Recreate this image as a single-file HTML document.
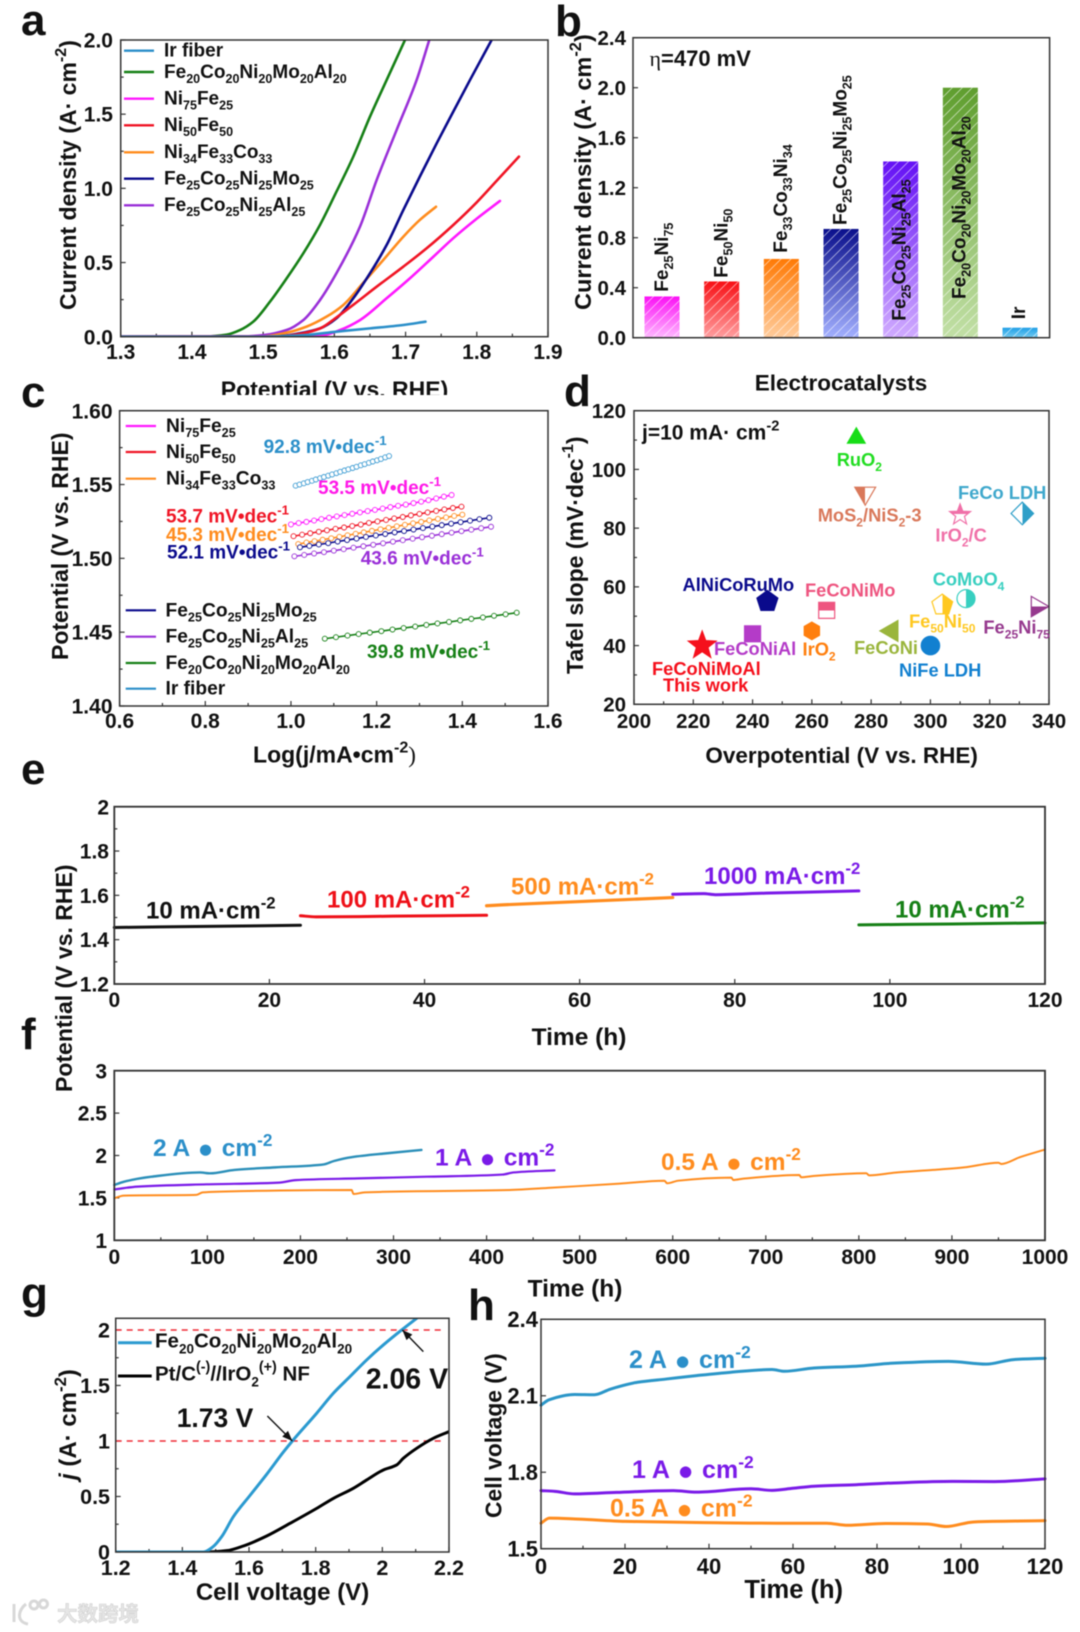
<!DOCTYPE html>
<html lang="en">
<head>
<meta charset="utf-8">
<title>Electrocatalyst performance figure</title>
<style>
html,body{margin:0;padding:0;background:#fff;width:1080px;height:1632px;overflow:hidden}
svg{display:block;filter:blur(.45px)}
text{font-family:"Liberation Sans","DejaVu Sans",sans-serif;font-weight:700;fill:#111}
.b{font-size:66%;baseline-shift:-.42em}
.p{font-size:70%;baseline-shift:.6em}
.dot{font-size:60%;font-family:"DejaVu Sans",sans-serif;baseline-shift:.12em}
.thin{font-family:"Liberation Serif",serif;font-weight:400}
</style>
</head>
<body>
<svg id="figure" xmlns="http://www.w3.org/2000/svg" width="1080" height="1632" viewBox="0 0 1080 1632">
<defs id="defs">
<linearGradient id="grad-0" x1="0" y1="0" x2="0" y2="1"><stop offset="0" stop-color="#fb10f5"/><stop offset="1" stop-color="#ffb8ff"/></linearGradient>
<linearGradient id="grad-1" x1="0" y1="0" x2="0" y2="1"><stop offset="0" stop-color="#f80f14"/><stop offset="1" stop-color="#ff9fa0"/></linearGradient>
<linearGradient id="grad-2" x1="0" y1="0" x2="0" y2="1"><stop offset="0" stop-color="#ff7a05"/><stop offset="1" stop-color="#ffcc9c"/></linearGradient>
<linearGradient id="grad-3" x1="0" y1="0" x2="0" y2="1"><stop offset="0" stop-color="#0a0f8c"/><stop offset="1" stop-color="#a3b0ff"/></linearGradient>
<linearGradient id="grad-4" x1="0" y1="0" x2="0" y2="1"><stop offset="0" stop-color="#6410f5"/><stop offset="1" stop-color="#d0abff"/></linearGradient>
<linearGradient id="grad-5" x1="0" y1="0" x2="0" y2="1"><stop offset="0" stop-color="#5f9e2e"/><stop offset="1" stop-color="#c2e0a6"/></linearGradient>
<linearGradient id="grad-6" x1="0" y1="0" x2="0" y2="1"><stop offset="0" stop-color="#1f9fe6"/><stop offset="1" stop-color="#73cbf2"/></linearGradient>
<pattern id="hatch" patternUnits="userSpaceOnUse" width="10" height="10"><path d="M-1 11L11 -1M-1 1L1 -1M9 11L11 9" stroke="#fff" stroke-width=".8" stroke-opacity=".6" fill="none"/></pattern>
</defs>

<!-- PANEL A -->
<g id="panel-a">
<g id="marks-a"></g>
<text x="21" y="35" font-size="44">a</text>
<text transform="translate(76,310) rotate(-90)" font-size="23">Current density (A· cm<tspan class="p">-2</tspan>)</text>
<text x="334.5" y="397.5" font-size="23" text-anchor="middle">Potential (V vs. RHE)</text>
<rect x="180" y="395" width="320" height="12" fill="#fff"/>
<g font-size="19">
<line x1="124" x2="154" y1="50.7" y2="50.7" stroke="#2b8fc9" stroke-width="2.4"/>
<text x="164" y="56.5">Ir fiber</text>
<line x1="124" x2="154" y1="72" y2="72" stroke="#168016" stroke-width="2.4"/>
<text x="164" y="78">Fe<tspan class="b">20</tspan>Co<tspan class="b">20</tspan>Ni<tspan class="b">20</tspan>Mo<tspan class="b">20</tspan>Al<tspan class="b">20</tspan></text>
<line x1="124" x2="154" y1="98.7" y2="98.7" stroke="#ff19ff" stroke-width="2.4"/>
<text x="164" y="104.5">Ni<tspan class="b">75</tspan>Fe<tspan class="b">25</tspan></text>
<line x1="124" x2="154" y1="125.3" y2="125.3" stroke="#f01525" stroke-width="2.4"/>
<text x="164" y="131">Ni<tspan class="b">50</tspan>Fe<tspan class="b">50</tspan></text>
<line x1="124" x2="154" y1="152.3" y2="152.3" stroke="#ff8c1e" stroke-width="2.4"/>
<text x="164" y="158">Ni<tspan class="b">34</tspan>Fe<tspan class="b">33</tspan>Co<tspan class="b">33</tspan></text>
<line x1="124" x2="154" y1="178.7" y2="178.7" stroke="#0a0a8c" stroke-width="2.4"/>
<text x="164" y="184.5">Fe<tspan class="b">25</tspan>Co<tspan class="b">25</tspan>Ni<tspan class="b">25</tspan>Mo<tspan class="b">25</tspan></text>
<line x1="124" x2="154" y1="205.3" y2="205.3" stroke="#9a30d8" stroke-width="2.4"/>
<text x="164" y="211">Fe<tspan class="b">25</tspan>Co<tspan class="b">25</tspan>Ni<tspan class="b">25</tspan>Al<tspan class="b">25</tspan></text>
</g>
</g>

<!-- PANEL B -->
<g id="panel-b">
<g id="marks-b"></g>
<text x="555" y="36" font-size="44">b</text>
<text transform="translate(591,310) rotate(-90)" font-size="23.5">Current density (A· cm<tspan class="p">-2</tspan>)</text>
<text x="841" y="390.7" font-size="22.5" text-anchor="middle">Electrocatalysts</text>
<text x="649.5" y="66" font-size="22"><tspan class="thin">η</tspan>=470 mV</text>
<g font-size="19">
<text transform="translate(668,291.7) rotate(-90)">Fe<tspan class="b">25</tspan>Ni<tspan class="b">75</tspan></text>
<text transform="translate(727.7,277.7) rotate(-90)">Fe<tspan class="b">50</tspan>Ni<tspan class="b">50</tspan></text>
<text transform="translate(787.2,252.7) rotate(-90)">Fe<tspan class="b">33</tspan>Co<tspan class="b">33</tspan>Ni<tspan class="b">34</tspan></text>
<text transform="translate(846.5,225) rotate(-90)">Fe<tspan class="b">25</tspan>Co<tspan class="b">25</tspan>Ni<tspan class="b">25</tspan>Mo<tspan class="b">25</tspan></text>
<text transform="translate(905.7,320.7) rotate(-90)">Fe<tspan class="b">25</tspan>Co<tspan class="b">25</tspan>Ni<tspan class="b">25</tspan>Al<tspan class="b">25</tspan></text>
<text transform="translate(965.3,299) rotate(-90)">Fe<tspan class="b">20</tspan>Co<tspan class="b">20</tspan>Ni<tspan class="b">20</tspan>Mo<tspan class="b">20</tspan>Al<tspan class="b">20</tspan></text>
<text transform="translate(1024.8,319.3) rotate(-90)">Ir</text>
</g>
</g>

<!-- PANEL C -->
<g id="panel-c">
<g id="marks-c"></g>
<text x="21" y="407" font-size="44">c</text>
<text transform="translate(68,660) rotate(-90)" font-size="23">Potential (V vs. RHE)</text>
<text x="334.5" y="762.7" font-size="23" text-anchor="middle">Log(j/mA•cm<tspan class="p">-2</tspan><tspan class="thin">)</tspan></text>
<g font-size="19.2">
<line x1="125.7" x2="156" y1="426" y2="426" stroke="#ff19ff" stroke-width="2.2"/>
<text x="166" y="432">Ni<tspan class="b">75</tspan>Fe<tspan class="b">25</tspan></text>
<line x1="125.7" x2="156" y1="452" y2="452" stroke="#f01525" stroke-width="2.2"/>
<text x="166" y="458">Ni<tspan class="b">50</tspan>Fe<tspan class="b">50</tspan></text>
<line x1="125.7" x2="156" y1="478.7" y2="478.7" stroke="#ff8c1e" stroke-width="2.2"/>
<text x="166" y="484.7">Ni<tspan class="b">34</tspan>Fe<tspan class="b">33</tspan>Co<tspan class="b">33</tspan></text>
<line x1="125.7" x2="156" y1="610.3" y2="610.3" stroke="#0a0a8c" stroke-width="2.2"/>
<text x="165.5" y="616.3">Fe<tspan class="b">25</tspan>Co<tspan class="b">25</tspan>Ni<tspan class="b">25</tspan>Mo<tspan class="b">25</tspan></text>
<line x1="125.7" x2="156" y1="636.7" y2="636.7" stroke="#9a30d8" stroke-width="2.2"/>
<text x="165.5" y="642.7">Fe<tspan class="b">25</tspan>Co<tspan class="b">25</tspan>Ni<tspan class="b">25</tspan>Al<tspan class="b">25</tspan></text>
<line x1="125.7" x2="156" y1="663" y2="663" stroke="#168016" stroke-width="2.2"/>
<text x="165.5" y="669">Fe<tspan class="b">20</tspan>Co<tspan class="b">20</tspan>Ni<tspan class="b">20</tspan>Mo<tspan class="b">20</tspan>Al<tspan class="b">20</tspan></text>
<line x1="125.7" x2="156" y1="688.7" y2="688.7" stroke="#2b8fc9" stroke-width="2.2"/>
<text x="165.5" y="694.7">Ir fiber</text>
</g>
<g font-size="19">
<text x="263.6" y="453" style="fill:#2b8fc9">92.8 mV•dec<tspan class="p">-1</tspan></text>
<text x="318" y="494" style="fill:#ff19e8">53.5 mV•dec<tspan class="p">-1</tspan></text>
<text x="166" y="522.7" style="fill:#f01525">53.7 mV•dec<tspan class="p">-1</tspan></text>
<text x="166" y="541" style="fill:#ff8c1e">45.3 mV•dec<tspan class="p">-1</tspan></text>
<text x="167" y="558.3" style="fill:#0a0a8c">52.1 mV•dec<tspan class="p">-1</tspan></text>
<text x="360.7" y="564.3" style="fill:#9a30d8">43.6 mV•dec<tspan class="p">-1</tspan></text>
<text x="367" y="658" style="fill:#168016">39.8 mV•dec<tspan class="p">-1</tspan></text>
</g>
</g>

<!-- PANEL D -->
<g id="panel-d">
<text x="564" y="406" font-size="44">d</text>
<g id="marks-d"></g>
<text transform="translate(583,674) rotate(-90)" font-size="23">Tafel slope (mV·dec<tspan class="p">-1</tspan>)</text>
<text x="841.6" y="763" font-size="22.5" text-anchor="middle">Overpotential (V vs. RHE)</text>
<text x="642" y="439.3" font-size="21">j=10 mA· cm<tspan class="p">-2</tspan></text>
<g font-size="18.3">
<text x="836.7" y="466" style="fill:#22dd22">RuO<tspan class="b">2</tspan></text>
<text x="817.7" y="521.7" style="fill:#d9785a">MoS<tspan class="b">2</tspan>/NiS<tspan class="b">2</tspan>-3</text>
<text x="958" y="499" style="fill:#3fa8cc">FeCo LDH</text>
<text x="935.4" y="541.7" style="fill:#f070a8">IrO<tspan class="b">2</tspan>/C</text>
<text x="682.5" y="591" style="fill:#0a0a8c">AlNiCoRuMo</text>
<text x="805" y="596.7" style="fill:#ee5580">FeCoNiMo</text>
<text x="932.7" y="585.7" style="fill:#38cfc0">CoMoO<tspan class="b">4</tspan></text>
<text x="909" y="627.7" style="fill:#ffc820">Fe<tspan class="b">50</tspan>Ni<tspan class="b">50</tspan></text>
<text x="983.4" y="633.3" style="fill:#96398e">Fe<tspan class="b">25</tspan>Ni<tspan class="b">75</tspan></text>
<text x="714" y="655" style="fill:#b43bc8">FeCoNiAl</text>
<text x="802.5" y="655.7" style="fill:#ff7f0e">IrO<tspan class="b">2</tspan></text>
<text x="854" y="654" style="fill:#9ab53c">FeCoNi</text>
<text x="899" y="676.7" style="fill:#1280d0">NiFe LDH</text>
<text x="652" y="675" style="fill:#f5101c">FeCoNiMoAl</text>
<text x="663" y="691.7" style="fill:#f5101c">This work</text>
</g>
</g>

<!-- PANEL E -->
<g id="panel-e">
<g id="marks-e"></g>
<text x="21" y="784" font-size="44">e</text>
<text transform="translate(72,1092) rotate(-90)" font-size="23">Potential (V vs. RHE)</text>
<text x="579" y="1045" font-size="24.5" text-anchor="middle">Time (h)</text>
<g font-size="24">
<text x="146" y="918.3">10 mA·cm<tspan class="p">-2</tspan></text>
<text x="327" y="907.7" style="fill:#ee1018">100 mA·cm<tspan class="p">-2</tspan></text>
<text x="511" y="894.3" style="fill:#ff8c1e">500 mA·cm<tspan class="p">-2</tspan></text>
<text x="704" y="884" style="fill:#7a1ae8">1000 mA·cm<tspan class="p">-2</tspan></text>
<text x="895" y="917.7" style="fill:#168016">10 mA·cm<tspan class="p">-2</tspan></text>
</g>
</g>

<!-- PANEL F -->
<g id="panel-f">
<g id="marks-f"></g>
<text x="21" y="1049" font-size="44">f</text>
<text x="575" y="1296.7" font-size="24.5" text-anchor="middle">Time (h)</text>
<g font-size="24.5">
<text x="153" y="1156" style="fill:#2b8fc9">2 A <tspan class="dot" dx="3">●</tspan><tspan dx="3"> cm</tspan><tspan class="p">-2</tspan></text>
<text x="435" y="1165.7" style="fill:#7a1ae8">1 A <tspan class="dot" dx="3">●</tspan><tspan dx="3"> cm</tspan><tspan class="p">-2</tspan></text>
<text x="661" y="1170" style="fill:#ff8c1e">0.5 A <tspan class="dot" dx="3">●</tspan><tspan dx="3"> cm</tspan><tspan class="p">-2</tspan></text>
</g>
</g>

<!-- PANEL G -->
<g id="panel-g">
<g id="marks-g"></g>
<text x="21" y="1308" font-size="44">g</text>
<text transform="translate(76,1480) rotate(-90)" font-size="24"><tspan font-style="italic">j</tspan> (A· cm<tspan class="p">-2</tspan>)</text>
<text x="282.5" y="1600" font-size="24" text-anchor="middle">Cell voltage (V)</text>
<line x1="118" x2="151.7" y1="1342.7" y2="1342.7" stroke="#2b9ad0" stroke-width="3"/>
<text x="155" y="1347.7" font-size="20.5">Fe<tspan class="b">20</tspan>Co<tspan class="b">20</tspan>Ni<tspan class="b">20</tspan>Mo<tspan class="b">20</tspan>Al<tspan class="b">20</tspan></text>
<line x1="118" x2="151.7" y1="1376" y2="1376" stroke="#000" stroke-width="3"/>
<text x="155" y="1380.7" font-size="20.5">Pt/C<tspan class="p">(-)</tspan>//IrO<tspan class="b">2</tspan><tspan class="p">(+)</tspan> NF</text>
<text x="365.7" y="1388.3" font-size="28.5">2.06 V</text>
<text x="176.7" y="1427" font-size="26.5">1.73 V</text>
</g>

<!-- PANEL H -->
<g id="panel-h">
<g id="marks-h"></g>
<text x="468" y="1320" font-size="44">h</text>
<text transform="translate(501.5,1518) rotate(-90)" font-size="22.8">Cell voltage (V)</text>
<text x="793.7" y="1598" font-size="25.5" text-anchor="middle">Time (h)</text>
<g font-size="25">
<text x="629" y="1368" style="fill:#2b8fc9">2 A <tspan class="dot" dx="3">●</tspan><tspan dx="3"> cm</tspan><tspan class="p">-2</tspan></text>
<text x="632" y="1478" style="fill:#7a1ae8">1 A <tspan class="dot" dx="3">●</tspan><tspan dx="3"> cm</tspan><tspan class="p">-2</tspan></text>
<text x="610" y="1516.7" style="fill:#ff8c1e">0.5 A <tspan class="dot" dx="3">●</tspan><tspan dx="3"> cm</tspan><tspan class="p">-2</tspan></text>
</g>
</g>

<!-- WATERMARK -->
<g>
<g fill="none" stroke="#d8d8d8" stroke-width="3">
<path d="M14 1604V1622M26 1604C18 1610 16 1622 28 1624"/>
<circle cx="34" cy="1605" r="4"/>
<circle cx="43.5" cy="1604" r="4"/>
</g>
<text x="57" y="1621" font-size="20.5" style="fill:#e6e6e6;stroke:#d2d2d2;stroke-width:.6;font-family:'Liberation Sans','Noto Sans CJK SC',sans-serif">大数跨境</text>
</g>
</svg>

<script>
/* ---------- Panel a: polarization curves ---------- */
const aXLabels = ['1.3','1.4','1.5','1.6','1.7','1.8','1.9'];
const aYLabels = ['0.0','0.5','1.0','1.5','2.0'];
const aIrU = [1.3,1.5,1.5564,1.603,1.65,1.6968,1.728];
const aIrJ = [0,0,0.01,0.034,0.056,0.079,0.101];
const aMoalU = [1.3,1.42,1.4488,1.4675,1.486,1.5096,1.533,1.5564,1.5798,1.603,1.6266,1.65,1.6734,1.6992];
const aMoalJ = [0,0.002,0.014,0.045,0.101,0.236,0.393,0.562,0.753,0.978,1.214,1.483,1.73,2.0];
const aNi75U = [1.3,1.55,1.5845,1.608,1.636,1.6734,1.706,1.739,1.767,1.7998,1.8325];
const aNi75J = [0,0.001,0.01,0.045,0.112,0.259,0.393,0.539,0.664,0.795,0.915];
const aNi50U = [1.3,1.52,1.556,1.58,1.603,1.6266,1.6594,1.6968,1.7296,1.767,1.7998,1.8278,1.8592];
const aNi50J = [0,0.002,0.023,0.056,0.13,0.215,0.337,0.472,0.596,0.753,0.905,1.05,1.214];
const aNi34U = [1.3,1.5,1.533,1.561,1.589,1.6126,1.64,1.6687,1.6968,1.72,1.7427];
const aNi34J = [0,0.003,0.027,0.068,0.135,0.214,0.36,0.517,0.674,0.787,0.876];
const aMoU = [1.3,1.52,1.5517,1.58,1.603,1.6266,1.65,1.6734,1.6968,1.72,1.7436,1.767,1.7904,1.8208];
const aMoJ = [0,0.003,0.023,0.056,0.124,0.259,0.427,0.618,0.854,1.079,1.303,1.517,1.73,2.0];
const aAlU = [1.3,1.47,1.5,1.533,1.5564,1.5798,1.6032,1.636,1.6594,1.6874,1.7155,1.7333];
const aAlJ = [0,0.002,0.01,0.045,0.112,0.247,0.43,0.742,1.056,1.393,1.73,2.0];

/* ---------- Panel b: bars ---------- */
const bXCategories = ['Fe25Ni75','Fe50Ni50','Fe33Co33Ni34','Fe25Co25Ni25Mo25','Fe25Co25Ni25Al25','Fe20Co20Ni20Mo20Al20','Ir'];
const bValues = [0.33,0.45,0.63,0.87,1.41,2.0,0.08];
const bYLabels = ['0.0','0.4','0.8','1.2','1.6','2.0','2.4'];

/* ---------- Panel c: Tafel plots ---------- */
const cXLabels = ['0.6','0.8','1.0','1.2','1.4','1.6'];
const cYLabels = ['1.40','1.45','1.50','1.55','1.60'];
const cIrX = [1.011,1.020,1.030,1.039,1.049,1.058,1.068,1.077,1.087,1.096,1.106,1.115,1.125,1.134,1.144,1.153,1.163,1.172,1.182,1.191,1.201,1.210,1.220,1.229];
const cIrV = [1.5492,1.5500,1.5508,1.5517,1.5525,1.5534,1.5543,1.5551,1.5560,1.5568,1.5577,1.5586,1.5595,1.5603,1.5612,1.5620,1.5630,1.5638,1.5647,1.5656,1.5664,1.5673,1.5684,1.5693];
const cNi75X = [1.000,1.018,1.036,1.054,1.071,1.089,1.107,1.125,1.143,1.161,1.179,1.196,1.214,1.232,1.250,1.268,1.286,1.304,1.321,1.339,1.357,1.375];
const cNi75V = [1.5230,1.5239,1.5247,1.5256,1.5266,1.5275,1.5284,1.5293,1.5302,1.5311,1.5320,1.5328,1.5337,1.5347,1.5356,1.5364,1.5374,1.5384,1.5394,1.5406,1.5418,1.5429];
const cNi50X = [1.006,1.026,1.045,1.065,1.084,1.104,1.124,1.143,1.163,1.182,1.202,1.222,1.241,1.261,1.280,1.300,1.319,1.339,1.358,1.378,1.398];
const cNi50V = [1.5150,1.5160,1.5170,1.5180,1.5190,1.5200,1.5209,1.5219,1.5229,1.5240,1.5250,1.5260,1.5270,1.5280,1.5291,1.5301,1.5311,1.5321,1.5331,1.5341,1.5350];
const cNi34X = [1.017,1.036,1.055,1.074,1.094,1.113,1.132,1.151,1.170,1.189,1.209,1.228,1.247,1.266,1.285,1.304,1.323,1.343,1.362,1.381,1.400];
const cNi34V = [1.5097,1.5107,1.5116,1.5126,1.5136,1.5146,1.5156,1.5166,1.5176,1.5186,1.5197,1.5207,1.5217,1.5227,1.5237,1.5247,1.5257,1.5267,1.5277,1.5287,1.5296];
const cMoX = [1.021,1.043,1.065,1.087,1.109,1.131,1.153,1.175,1.198,1.220,1.242,1.264,1.286,1.308,1.330,1.352,1.374,1.396,1.418,1.440,1.463];
const cMoV = [1.5075,1.5084,1.5094,1.5103,1.5114,1.5124,1.5134,1.5145,1.5155,1.5165,1.5176,1.5185,1.5195,1.5205,1.5215,1.5225,1.5235,1.5245,1.5255,1.5265,1.5275];
const cAlX = [1.008,1.031,1.054,1.077,1.100,1.123,1.146,1.169,1.192,1.215,1.238,1.261,1.284,1.306,1.329,1.352,1.375,1.398,1.421,1.444,1.467];
const cAlV = [1.5014,1.5023,1.5033,1.5042,1.5052,1.5062,1.5072,1.5082,1.5092,1.5102,1.5113,1.5123,1.5133,1.5143,1.5153,1.5164,1.5174,1.5184,1.5194,1.5204,1.5214];
const cMoalX = [1.079,1.105,1.132,1.158,1.184,1.211,1.237,1.263,1.290,1.316,1.342,1.369,1.395,1.421,1.448,1.474,1.501,1.527];
const cMoalV = [1.4456,1.4466,1.4477,1.4487,1.4497,1.4507,1.4518,1.4528,1.4538,1.4549,1.4559,1.4569,1.4580,1.4590,1.4600,1.4611,1.4621,1.4632];

/* ---------- Panel d: scatter ---------- */
const dXLabels = ['200','220','240','260','280','300','320','340'];
const dYLabels = ['20','40','60','80','100','120'];
const dCatalysts = ['FeCoNiMoAl','FeCoNiAl','AlNiCoRuMo','FeCoNiMo','IrO2','FeCoNi','NiFe LDH','Fe50Ni50','CoMoO4','Fe25Ni75','IrO2/C','FeCo LDH','MoS2/NiS2-3','RuO2'];
const dOverpotential = [223,240,245,265,260,287,300,304,312,336,310,331,278,275];
const dTafel = [40,44,55,52,45,45,40,53.8,56,53.3,84.5,85,91.9,110.7];

/* ---------- Panel e: current steps ---------- */
const eXLabels = ['0','20','40','60','80','100','120'];
const eYLabels = ['1.2','1.4','1.6','1.8','2'];
const eT10a = [0,12,24];
const eV10a = [1.455,1.460,1.465];
const eT100 = [24,26,36,48];
const eV100 = [1.508,1.503,1.506,1.510];
const eT500 = [48,50,60,72];
const eV500 = [1.553,1.557,1.572,1.590];
const eT1000 = [72,76,77.5,84,96];
const eV1000 = [1.605,1.608,1.603,1.610,1.620];
const eT10b = [96,108,120];
const eV10b = [1.467,1.471,1.476];

/* ---------- Panel f: long-term stability ---------- */
const fXLabels = ['0','100','200','300','400','500','600','700','800','900','1000'];
const fYLabels = ['1','1.5','2','2.5','3'];
const fT2A = [0,10,40,92,103,129,173,225,236,255,292,330];
const fV2A = [1.652,1.69,1.75,1.80,1.79,1.83,1.86,1.895,1.935,1.98,2.025,2.065];
const fT1A = [0,25,99,177,195,262,336,417,429,473];
const fV1A = [1.60,1.633,1.66,1.68,1.71,1.73,1.75,1.775,1.80,1.825];
const fT05A = [0,10,88,95,136,255,257,269,425,469,543,591,594,606,663,665,676,736,738,751,808,811,839,880,913,950,953,973,1000];
const fV05A = [1.495,1.527,1.535,1.565,1.58,1.593,1.546,1.565,1.593,1.62,1.668,1.703,1.672,1.703,1.739,1.711,1.727,1.77,1.743,1.758,1.79,1.766,1.798,1.83,1.86,1.915,1.9,1.98,2.07];

/* ---------- Panel g: cell polarization ---------- */
const gXLabels = ['1.2','1.4','1.6','1.8','2','2.2'];
const gYLabels = ['0','0.5','1','1.5','2'];
const gCellU = [1.2,1.463,1.493,1.518,1.553,1.603,1.653,1.703,1.73,1.803,1.853,1.903,1.953,2.003,2.058,2.103];
const gCellJ = [0,0,0.05,0.138,0.318,0.51,0.70,0.90,1,1.25,1.43,1.58,1.73,1.865,2,2.105];
const gRefU = [1.2,1.473,1.533,1.583,1.653,1.723,1.803,1.853,1.913,1.953,2.003,2.043,2.063,2.103,2.153,2.2];
const gRefJ = [0,0,0.012,0.054,0.144,0.258,0.393,0.483,0.574,0.649,0.739,0.784,0.844,0.934,1.024,1.084];
const gThresholds = [1,2];

/* ---------- Panel h: cell stability ---------- */
const hXLabels = ['0','20','40','60','80','100','120'];
const hYLabels = ['1.5','1.8','2.1','2.4'];
const hT2A = [0,1.9,8,12.7,16.5,23,30,37,45,55,58,65,75,84,97,106,112.5,120];
const hV2A = [2.063,2.084,2.105,2.104,2.126,2.153,2.166,2.179,2.192,2.203,2.196,2.209,2.216,2.228,2.235,2.224,2.242,2.247];
const hT1A = [0,3.3,8,18,31.5,37,50,55,60,65,75,84,98,108,120];
const hV1A = [1.728,1.725,1.715,1.721,1.728,1.722,1.735,1.729,1.737,1.745,1.751,1.758,1.764,1.763,1.774];
const hT05A = [0,2,9,20,37,56,68,73,82,92,96.5,103,120];
const hV05A = [1.60,1.62,1.616,1.607,1.603,1.60,1.60,1.592,1.599,1.597,1.587,1.605,1.61];

/* ---------- Drawing helpers ---------- */
const NS = 'http://www.w3.org/2000/svg';
function make(tag, parent) {
  const e = document.createElementNS(NS, tag);
  parent.appendChild(e);
  return e;
}
function scale(d0, d1, p0, p1) {
  return function (v) { return p0 + (v - d0) * (p1 - p0) / (d1 - d0); };
}
function drawFrame(host, box) {
  const f = make('rect', host);
  
  
  f.setAttribute('x', box.l);
  f.setAttribute('y', box.t);
  f.setAttribute('width', box.r - box.l);
  f.setAttribute('height', box.b - box.t);
  f.setAttribute('fill', 'none');
  f.setAttribute('stroke', '#333');
  f.setAttribute('stroke-width', box.frame || 1.5);
}
function drawTick(host, x1, y1, x2, y2) {
  const t = make('line', host);
  
  
  t.setAttribute('x1', x1);
  t.setAttribute('y1', y1);
  t.setAttribute('x2', x2);
  t.setAttribute('y2', y2);
  t.setAttribute('stroke', '#333');
  t.setAttribute('stroke-width', 1.2);
}
function drawLabel(host, x, y, anchor, fs, str) {
  const t = make('text', host);
  
  
  t.setAttribute('x', x);
  t.setAttribute('y', y);
  t.setAttribute('text-anchor', anchor);
  t.setAttribute('font-size', fs);
  t.textContent = str;
}
function drawAxes(host, box, xLabels, yLabels) {
  const sx = scale(box.xd[0], box.xd[1], box.l, box.r);
  const sy = scale(box.yd[0], box.yd[1], box.b, box.t);
  xLabels.forEach(function (s, i) {
    const v = parseFloat(s);
    drawTick(host, sx(v), box.b, sx(v), box.b - 5);
    drawLabel(host, sx(v), box.xBase, 'middle', box.fs, s);
    if (box.xMinor && i < xLabels.length - 1) {
      const m = (v + parseFloat(xLabels[i + 1])) / 2;
      drawTick(host, sx(m), box.b, sx(m), box.b - 3);
    }
  });
  yLabels.forEach(function (s, i) {
    const v = parseFloat(s);
    drawTick(host, box.l, sy(v), box.l + 5, sy(v));
    drawLabel(host, box.yEnd, sy(v) + box.fs * 0.36, 'end', box.fs, s);
    if (box.yMinor && i < yLabels.length - 1) {
      const m = (v + parseFloat(yLabels[i + 1])) / 2;
      drawTick(host, box.l, sy(m), box.l + 3, sy(m));
    }
  });
  return { x: sx, y: sy };
}
function addClip(id, box) {
  const c = make('clipPath', document.getElementById('defs'));
  c.setAttribute('id', id);
  const r = make('rect', c);
  r.setAttribute('x', box.l);
  r.setAttribute('y', box.t);
  r.setAttribute('width', box.r - box.l);
  r.setAttribute('height', box.b - box.t);
}
/* monotone cubic path through the scaled points, so curves read smooth without overshoot */
function smoothPath(px, py) {
  const n = px.length;
  const d = [], m = [];
  for (let i = 0; i < n - 1; i++) d.push((py[i + 1] - py[i]) / ((px[i + 1] - px[i]) || 1e-6));
  m[0] = d[0];
  m[n - 1] = d[n - 2];
  for (let i = 1; i < n - 1; i++) {
    if (d[i - 1] * d[i] <= 0) { m[i] = 0; continue; }
    const h0 = px[i] - px[i - 1], h1 = px[i + 1] - px[i];
    m[i] = 3 * (h0 + h1) / ((2 * h1 + h0) / d[i - 1] + (h1 + 2 * h0) / d[i]);
  }
  let out = 'M' + px[0].toFixed(2) + ' ' + py[0].toFixed(2);
  for (let i = 0; i < n - 1; i++) {
    const h = (px[i + 1] - px[i]) / 3;
    out += 'C' + (px[i] + h).toFixed(2) + ' ' + (py[i] + m[i] * h).toFixed(2) + ' ' +
      (px[i + 1] - h).toFixed(2) + ' ' + (py[i + 1] - m[i + 1] * h).toFixed(2) + ' ' +
      px[i + 1].toFixed(2) + ' ' + py[i + 1].toFixed(2);
  }
  return out;
}
function drawSeries(host, s, xs, ys, color, width, name, clipId) {
  const p = make('path', host);
  
  
  p.setAttribute('d', smoothPath(xs.map(s.x), ys.map(s.y)));
  p.setAttribute('fill', 'none');
  p.setAttribute('stroke', color);
  p.setAttribute('stroke-width', width);
  p.setAttribute('stroke-linejoin', 'round');
  p.setAttribute('stroke-linecap', 'round');
  if (clipId) p.setAttribute('clip-path', 'url(#' + clipId + ')');
  return p;
}

/* ---------- Panel a ---------- */
(function () {
  const host = document.getElementById('marks-a');
  const box = { l: 120.7, r: 548, t: 40, b: 336.7, xd: [1.3, 1.9], yd: [0, 2], xBase: 359, yEnd: 113, fs: 21, xMinor: true, yMinor: true };
  addClip('clip-a', box);
  const s = drawAxes(host, box, aXLabels, aYLabels);
  drawSeries(host, s, aMoalU, aMoalJ, '#168016', 2.6, 'curve-fe20co20ni20mo20al20', 'clip-a');
  drawSeries(host, s, aAlU, aAlJ, '#9a30d8', 2.6, 'curve-fe25co25ni25al25', 'clip-a');
  drawSeries(host, s, aNi34U, aNi34J, '#ff8c1e', 2.6, 'curve-ni34fe33co33', 'clip-a');
  drawSeries(host, s, aMoU, aMoJ, '#0a0a8c', 2.6, 'curve-fe25co25ni25mo25', 'clip-a');
  drawSeries(host, s, aNi50U, aNi50J, '#f01525', 2.6, 'curve-ni50fe50', 'clip-a');
  drawSeries(host, s, aNi75U, aNi75J, '#ff19ff', 2.6, 'curve-ni75fe25', 'clip-a');
  drawSeries(host, s, aIrU, aIrJ, '#2b8fc9', 2.6, 'curve-ir-fiber', 'clip-a');
  drawFrame(host, box);
})();

/* ---------- Panel b ---------- */
(function () {
  const host = document.getElementById('marks-b');
  const box = { l: 633, r: 1049.6, t: 37.7, b: 337.7, xd: [-0.49, 6.49], yd: [0, 2.4], xBase: 0, yEnd: 626, fs: 20.5, yMinor: false };
  const s = drawAxes(host, box, [], bYLabels);
  const band = scale(0, bXCategories.length - 1, 662, 1020);
  const barWidth = 35;
  bValues.forEach(function (v, i) {
    const bar = make('rect', host);
    
    
    bar.setAttribute('x', band(i) - barWidth / 2);
    bar.setAttribute('y', s.y(v));
    bar.setAttribute('width', barWidth);
    bar.setAttribute('height', box.b - s.y(v));
    bar.setAttribute('fill', 'url(#grad-' + i + ')');
    const hatch = make('rect', host);
    
    
    hatch.setAttribute('x', band(i) - barWidth / 2);
    hatch.setAttribute('y', s.y(v));
    hatch.setAttribute('width', barWidth);
    hatch.setAttribute('height', box.b - s.y(v));
    hatch.setAttribute('fill', 'url(#hatch)');
  });
  drawFrame(host, box);
})();

/* ---------- Panel c ---------- */
(function () {
  const host = document.getElementById('marks-c');
  const box = { l: 119.6, r: 548, t: 410.7, b: 706, xd: [0.6, 1.6], yd: [1.4, 1.6], xBase: 728, yEnd: 112.5, fs: 21, xMinor: true, yMinor: true };
  const s = drawAxes(host, box, cXLabels, cYLabels);
  function fit(xs, ys, color, name) {
    drawSeries(host, s, xs, ys, color, 1.6, name);
    xs.forEach(function (v, i) {
      const m = make('circle', host);
      
      
      m.setAttribute('cx', s.x(v));
      m.setAttribute('cy', s.y(ys[i]));
      m.setAttribute('r', 2.5);
      m.setAttribute('fill', '#fff');
      m.setAttribute('stroke', color);
      m.setAttribute('stroke-width', 0.9);
    });
  }
  fit(cIrX, cIrV, '#3a9ad2', 'tafel-line-ir-fiber');
  fit(cNi75X, cNi75V, '#ff19ff', 'tafel-line-ni75fe25');
  fit(cNi50X, cNi50V, '#f01525', 'tafel-line-ni50fe50');
  fit(cNi34X, cNi34V, '#ff8c1e', 'tafel-line-ni34fe33co33');
  fit(cMoX, cMoV, '#0a0a8c', 'tafel-line-fecownimo');
  fit(cAlX, cAlV, '#9a30d8', 'tafel-line-fecownial');
  fit(cMoalX, cMoalV, '#168016', 'tafel-line-fecownimoal');
  drawFrame(host, box);
})();

/* ---------- Panel d ---------- */
(function () {
  const host = document.getElementById('marks-d');
  const box = { l: 634, r: 1049, t: 410.7, b: 704.3, xd: [200, 340], yd: [20, 120], xBase: 728, yEnd: 626, fs: 20.5, xMinor: true, yMinor: true };
  const s = drawAxes(host, box, dXLabels, dYLabels);
  const look = {
    'FeCoNiMoAl': { kind: 'star', r: 14.5, color: '#f5101c' },
    'FeCoNiAl': { kind: 'square', r: 11.3, color: '#b43bc8' },
    'AlNiCoRuMo': { kind: 'pentagon', r: 11, color: '#0a0a8c' },
    'FeCoNiMo': { kind: 'square', r: 11.3, color: '#ee5580', half: 'top' },
    'IrO2': { kind: 'hexagon', r: 8.8, color: '#ff7f0e' },
    'FeCoNi': { kind: 'left', r: 12, color: '#9ab53c' },
    'NiFe LDH': { kind: 'circle', r: 9.2, color: '#1280d0' },
    'Fe50Ni50': { kind: 'pentagon', r: 10.9, color: '#ffc820', half: 'right' },
    'CoMoO4': { kind: 'circle', r: 9, color: '#38cfc0', half: 'right' },
    'Fe25Ni75': { kind: 'right', r: 11.7, color: '#96398e', half: 'bottom' },
    'IrO2/C': { kind: 'star', r: 11, color: '#f070a8', half: 'top' },
    'FeCo LDH': { kind: 'diamond', r: 11.3, color: '#2f9fc8', half: 'right' },
    'MoS2/NiS2-3': { kind: 'down', r: 12, color: '#d9785a', half: 'left' },
    'RuO2': { kind: 'up', r: 10.2, color: '#17dd17' }
  };
  function ring(n, r, start, cx, cy, inner) {
    const pts = [];
    const count = inner ? n * 2 : n;
    for (let k = 0; k < count; k++) {
      const a = start + k * 2 * Math.PI / count;
      const rad = inner && k % 2 ? r * inner : r;
      pts.push((cx + rad * Math.cos(a)).toFixed(2) + ',' + (cy + rad * Math.sin(a)).toFixed(2));
    }
    return pts.join(' ');
  }
  function halfFill(i, color, side) {
    const g = make('linearGradient', document.getElementById('defs'));
    g.setAttribute('id', 'half-' + i);
    g.setAttribute('x1', side === 'right' ? 1 : 0);
    g.setAttribute('y1', side === 'bottom' ? 1 : 0);
    g.setAttribute('x2', side === 'left' ? 1 : 0);
    g.setAttribute('y2', side === 'top' ? 1 : 0);
    [[0.5, color], [0.5, '#fff']].forEach(function (st) {
      const stop = make('stop', g);
      stop.setAttribute('offset', st[0]);
      stop.setAttribute('stop-color', st[1]);
    });
    return 'url(#half-' + i + ')';
  }
  dCatalysts.forEach(function (name, i) {
    const st = look[name];
    const cx = s.x(dOverpotential[i]);
    const cy = s.y(dTafel[i]);
    const up = -Math.PI / 2;
    let m;
    if (st.kind === 'circle') {
      m = make('circle', host);
      m.setAttribute('cx', cx);
      m.setAttribute('cy', cy);
      m.setAttribute('r', st.r);
    } else {
      m = make('polygon', host);
      let pts = '';
      if (st.kind === 'star') pts = ring(5, st.r, up, cx, cy, 0.42);
      if (st.kind === 'square') pts = ring(4, st.r, Math.PI / 4, cx, cy);
      if (st.kind === 'diamond') pts = ring(4, st.r, 0, cx, cy);
      if (st.kind === 'pentagon') pts = ring(5, st.r, up, cx, cy);
      if (st.kind === 'hexagon') pts = ring(6, st.r, up, cx, cy);
      if (st.kind === 'up') pts = ring(3, st.r, up, cx, cy);
      if (st.kind === 'down') pts = ring(3, st.r, -up, cx, cy);
      if (st.kind === 'left') pts = ring(3, st.r, Math.PI, cx, cy);
      if (st.kind === 'right') pts = ring(3, st.r, 0, cx, cy);
      m.setAttribute('points', pts);
    }
    
    
    m.setAttribute('fill', st.half ? halfFill(i, st.color, st.half) : st.color);
    m.setAttribute('stroke', st.color);
    m.setAttribute('stroke-width', 1.2);
  });
  drawFrame(host, box);
})();

/* ---------- Panel e ---------- */
(function () {
  const host = document.getElementById('marks-e');
  const box = { l: 114.3, r: 1045, t: 806.7, b: 984, xd: [0, 120], yd: [1.2, 2], xBase: 1007, yEnd: 109, fs: 21, yMinor: true, frame: 1.8 };
  const s = drawAxes(host, box, eXLabels, eYLabels);
  drawSeries(host, s, eT10a, eV10a, '#111', 3, 'step-10-ma-start');
  drawSeries(host, s, eT100, eV100, '#ee1018', 3, 'step-100-ma');
  drawSeries(host, s, eT500, eV500, '#ff8c1e', 3.2, 'step-500-ma');
  drawSeries(host, s, eT1000, eV1000, '#7a1ae8', 3, 'step-1000-ma');
  drawSeries(host, s, eT10b, eV10b, '#168016', 3, 'step-10-ma-end');
  drawFrame(host, box);
})();

/* ---------- Panel f ---------- */
(function () {
  const host = document.getElementById('marks-f');
  const box = { l: 114.3, r: 1045, t: 1070.7, b: 1240.3, xd: [0, 1000], yd: [1, 3], xBase: 1264, yEnd: 107, fs: 21, xMinor: true, frame: 1.8 };
  const s = drawAxes(host, box, fXLabels, fYLabels);
  drawSeries(host, s, fT05A, fV05A, '#ff8c1e', 2, 'stability-0-5a');
  drawSeries(host, s, fT1A, fV1A, '#7a1ae8', 2.2, 'stability-1a');
  drawSeries(host, s, fT2A, fV2A, '#2b8fb9', 2.4, 'stability-2a');
  drawFrame(host, box);
})();

/* ---------- Panel g ---------- */
(function () {
  const host = document.getElementById('marks-g');
  const box = { l: 115.7, r: 449, t: 1318.3, b: 1552, xd: [1.2, 2.2], yd: [0, 2.105], xBase: 1575, yEnd: 110, fs: 21.5, xMinor: true, yMinor: true };
  addClip('clip-g', box);
  const s = drawAxes(host, box, gXLabels, gYLabels);
  gThresholds.forEach(function (level) {
    const d = make('line', host);
    
    
    d.setAttribute('x1', box.l);
    d.setAttribute('x2', box.r - 6);
    d.setAttribute('y1', s.y(level));
    d.setAttribute('y2', s.y(level));
    d.setAttribute('stroke', '#ef2b36');
    d.setAttribute('stroke-width', 1.5);
    d.setAttribute('stroke-dasharray', '6 5');
  });
  drawSeries(host, s, gRefU, gRefJ, '#000', 3, 'curve-pt-c-iro2', 'clip-g');
  drawSeries(host, s, gCellU, gCellJ, '#2b9ad0', 3, 'curve-fecownimoal-cell', 'clip-g');
  function arrow(fromV, fromJ, toV, toJ, name) {
    const x1 = s.x(fromV), y1 = s.y(fromJ), x2 = s.x(toV), y2 = s.y(toJ);
    const a = Math.atan2(y2 - y1, x2 - x1);
    const shaft = make('line', host);
    
    
    shaft.setAttribute('x1', x1);
    shaft.setAttribute('y1', y1);
    shaft.setAttribute('x2', x2);
    shaft.setAttribute('y2', y2);
    shaft.setAttribute('stroke', '#111');
    shaft.setAttribute('stroke-width', 1.4);
    const head = make('polygon', host);
    
    
    const p1 = (x2 - 11 * Math.cos(a - 0.38)) + ',' + (y2 - 11 * Math.sin(a - 0.38));
    const p2 = (x2 - 11 * Math.cos(a + 0.38)) + ',' + (y2 - 11 * Math.sin(a + 0.38));
    head.setAttribute('points', x2 + ',' + y2 + ' ' + p1 + ' ' + p2);
    head.setAttribute('fill', '#111');
  }
  arrow(2.123, 1.805, 2.06, 2, 'arrow-2-06v');
  arrow(1.655, 1.225, 1.73, 1, 'arrow-1-73v');
  drawFrame(host, box);
})();

/* ---------- Panel h ---------- */
(function () {
  const host = document.getElementById('marks-h');
  const box = { l: 541, r: 1045, t: 1319.3, b: 1548.7, xd: [0, 120], yd: [1.5, 2.4], xBase: 1574, yEnd: 538, fs: 22, xMinor: true };
  const s = drawAxes(host, box, hXLabels, hYLabels);
  drawSeries(host, s, hT05A, hV05A, '#ff8c1e', 3, 'cell-0-5a');
  drawSeries(host, s, hT1A, hV1A, '#7a1ae8', 3, 'cell-1a');
  drawSeries(host, s, hT2A, hV2A, '#2b96c8', 3, 'cell-2a');
  drawFrame(host, box);
})();
</script>
</body>
</html>
